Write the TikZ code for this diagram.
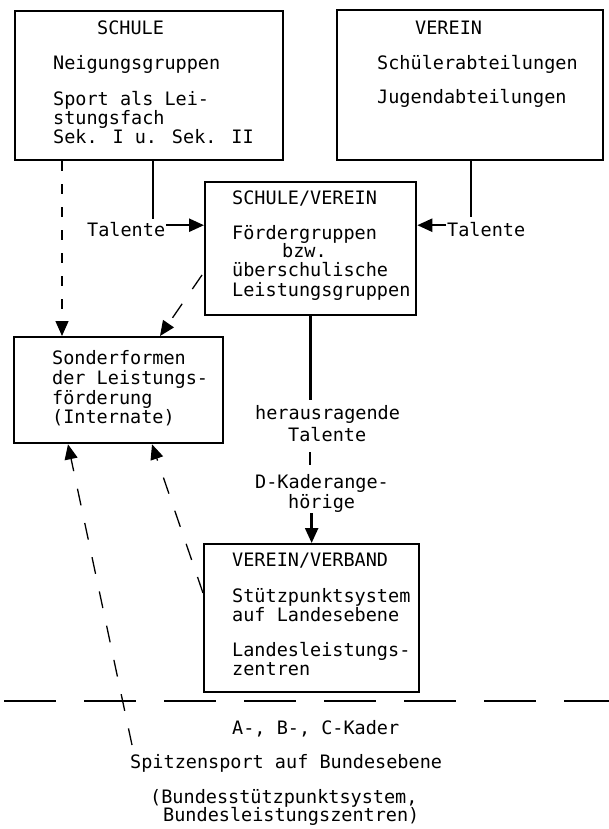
\documentclass[tikz,border=0pt]{standalone}
\usepackage{fontspec}
\newfontfamily\mono{DejaVu Sans Mono}
\usetikzlibrary{arrows.meta}
\begin{document}
\begin{tikzpicture}[x=1pt,y=1pt,
  box/.style={draw, line width=2.3pt, inner sep=0pt, anchor=north west},
  txt/.style={font=\mono\fontsize{18.5}{19}\selectfont, inner sep=0pt, anchor=mid west, yshift=-4pt},
  conn/.style={line width=2.4pt},
  arr/.style={conn, -{Triangle[length=15pt,width=13pt]}},
  dconn/.style={line width=1.3pt, dash pattern=on 17pt off 18pt},
  darr/.style={dconn, -{Triangle[length=15pt,width=13pt]}},
  vdarr/.style={line width=1.3pt, dash pattern=on 10pt off 13pt, -{Triangle[length=15pt,width=13pt]}},
  hdash/.style={line width=1.6pt, dash pattern=on 52pt off 28pt, dash phase=76pt}]
\useasboundingbox (0,0) rectangle (609,-829);
\fill[white] (0,0) rectangle (609,-829);

% boxes
\node[box, minimum width=268pt, minimum height=149pt] (schule) at (14,-10) {};
\node[box, minimum width=266pt, minimum height=150pt] (verein) at (336,-9) {};
\node[box, minimum width=211pt, minimum height=133pt] (sv) at (204,-181) {};
\node[box, minimum width=209pt, minimum height=106pt] (sonder) at (13,-336) {};
\node[box, minimum width=215pt, minimum height=148pt] (vv) at (203,-543) {};

% texts SCHULE
\node[txt] (s1) at (97,-28) {SCHULE};
\node[txt] (s2) at (53,-63) {Neigungsgruppen};
\node[txt] (s3) at (53,-99) {Sport als Lei-};
\node[txt] (s4) at (53,-118) {stungsfach};
\node[txt] (s5) at (53,-137) {Sek. I u. Sek. II};
% VEREIN
\node[txt] (v1) at (415,-28) {VEREIN};
\node[txt] (v2) at (377,-63) {Schülerabteilungen};
\node[txt] (v3) at (377,-97) {Jugendabteilungen};
% SCHULE/VEREIN
\node[txt] (w1) at (232,-198) {SCHULE/VEREIN};
\node[txt] (w2) at (232,-233) {Fördergruppen};
\node[txt] (w3) at (282,-251) {bzw.};
\node[txt] (w4) at (232,-270) {überschulische};
\node[txt] (w5) at (232,-290) {Leistungsgruppen};
% Sonderformen
\node[txt] (o1) at (52,-358) {Sonderformen};
\node[txt] (o2) at (52,-378) {der Leistungs-};
\node[txt] (o3) at (52,-398) {förderung};
\node[txt] (o4) at (52,-417) {(Internate)};
% VEREIN/VERBAND
\node[txt] (u1) at (232,-560) {VEREIN/VERBAND};
\node[txt] (u2) at (232,-596) {Stützpunktsystem};
\node[txt] (u3) at (232,-615) {auf Landesebene};
\node[txt] (u4) at (232,-650) {Landesleistungs-};
\node[txt] (u5) at (232,-669) {zentren};
% labels
\node[txt] (talL) at (87,-230) {Talente};
\node[txt] (talR) at (447,-230) {Talente};
\node[txt] (hr1) at (255,-413) {herausragende};
\node[txt] (hr2) at (288,-435) {Talente};
\node[txt] (dk1) at (255,-482) {D-Kaderange-};
\node[txt] (dk2) at (288,-502) {hörige};
\node[txt] (b1) at (232,-728) {A-, B-, C-Kader};
\node[txt] (b2) at (130,-762) {Spitzensport auf Bundesebene};
\node[txt] (b3) at (150,-797) {(Bundesstützpunktsystem,};
\node[txt] (b4) at (163,-815) {Bundesleistungszentren)};

% coordinates
\coordinate (c1) at (153,-219);
\coordinate (c2) at (471,-217);
\coordinate (c3) at (62,0);
\coordinate (c4a) at (202,-275);
\coordinate (c4b) at (160,0);
\coordinate (c5) at (0,-400);
\coordinate (c6a) at (310,-452);
\coordinate (c6b) at (310,-465);
\coordinate (c6c) at (0,-513);
\coordinate (c7a) at (132,-745);
\coordinate (c7b) at (68,0);
\coordinate (c8a) at (0,-593);
\coordinate (c8b) at (152,0);
\coordinate (h1) at (0,-701);
\coordinate (h2) at (609,-701);

% connectors
\draw[conn] (schule.south -| c1) -- (c1);
\draw[arr] ([shift={(1pt,4pt)}]talL.east) -- ([yshift=4pt]talL.east -| sv.west);
\draw[conn] (verein.south -| c2) -- (c2);
\draw[arr] ([shift={(-1pt,4pt)}]talR.west) -- ([yshift=4pt]talR.west -| sv.east);
\draw[vdarr] (schule.south -| c3) -- (sonder.north -| c3);
\draw[darr] (c4a) -- (sonder.north -| c4b);
\draw[conn] (sv.south) -- (sv.south |- c5);
\draw[conn] (c6a) -- (c6b);
\draw[arr] (vv.north |- c6c) -- (vv.north);
\draw[darr] (c7a) -- (sonder.south -| c7b);
\draw[darr] (vv.west |- c8a) -- (sonder.south -| c8b);
\draw[hdash] (h1) -- (h2);
\end{tikzpicture}
\end{document}
